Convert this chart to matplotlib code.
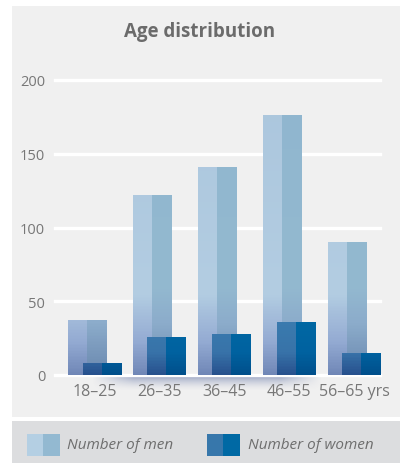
import numpy as np
import matplotlib
matplotlib.use("Agg")
import matplotlib.pyplot as plt
from matplotlib.patches import Rectangle
from matplotlib.colors import to_rgb

plt.rcParams['font.family'] = ['Open Sans', 'DejaVu Sans']

# ---- data ----
categories = ["18–25", "26–35", "36–45", "46–55", "56–65 yrs"]
men = [37, 122, 141, 176, 90]
women = [8, 26, 28, 36, 15]
series_names = ["Number of men", "Number of women"]
yticks = [0, 50, 100, 150, 200]

W, H = 400, 464
fig = plt.figure(figsize=(W / 100, H / 100), dpi=100)
fig.patch.set_facecolor("white")

def fx(px):
    return px / W

def fy(py):
    return 1 - py / H

# panel background and legend band
fig.patches.append(Rectangle((fx(12), fy(418)), fx(388), (418 - 7) / H,
                             transform=fig.transFigure, facecolor="#f0f0f0",
                             edgecolor="none", zorder=-10))
fig.patches.append(Rectangle((fx(12), 0), fx(388), (464 - 422) / H,
                             transform=fig.transFigure, facecolor="#dcdddf",
                             edgecolor="none", zorder=-10))

ax = fig.add_axes([fx(55), fy(376), fx(380 - 55), (376 - 81) / H])
ax.set_facecolor("none")
for s in ax.spines.values():
    s.set_visible(False)

x = np.arange(len(categories))
off = 0.11
bw = 0.6


def ramp(stops, n=200):
    ys = np.arange(n) + 0.5
    vals = np.array([s[0] for s in stops])
    cols = np.array([to_rgb(s[1]) for s in stops])
    out = np.zeros((n, 3))
    for c in range(3):
        out[:, c] = np.interp(ys, vals, cols[:, c])
    return out


men_left = ramp([(0, "#6f86b6"), (22, "#93aad2"), (55, "#b3cde2"), (200, "#abc6dd")])
men_right = ramp([(0, "#6987ae"), (35, "#8caccb"), (60, "#93b9d0"), (200, "#90b6cf")])
wom_left = ramp([(0, "#27508d"), (15, "#3873a9"), (40, "#3b7db0"), (200, "#3b7db0")])
wom_right = ramp([(0, "#004f8b"), (15, "#0062a0"), (40, "#0069a4"), (200, "#0069a4")])


def grad_image(left, right):
    img = np.stack([left, right], axis=1)  # (rows, 2, 3)
    return img[::-1]  # top row first for imshow


men_img = grad_image(men_left, men_right)
wom_img = grad_image(wom_left, wom_right)

bars_m = ax.bar(x - off, men, width=bw, color="#aac5dc", zorder=2, linewidth=0)
bars_w = ax.bar(x + off, women, width=bw, color="#0069a4", zorder=4, linewidth=0)

for bars, img, z in [(bars_m, men_img, 2.5), (bars_w, wom_img, 4.5)]:
    for b in bars:
        x0, w = b.get_x(), b.get_width()
        im = ax.imshow(img, extent=(x0, x0 + w, 0, 200), aspect="auto",
                       interpolation="nearest", zorder=z, origin="upper")
        im.set_clip_path(b)

# soft shadow below the baseline
nx, ny = 200, 30
gx = np.linspace(0, 1, nx)
gy = np.linspace(0, 1, ny)
hx = np.clip(np.minimum(gx / 0.18, (1 - gx) / 0.18), 0, 1)
vy = (1 - gy) ** 1.6
alpha = np.outer(vy, hx) * 0.55
shadow = np.zeros((ny, nx, 4))
shadow[..., :3] = to_rgb("#5d6fa3")
shadow[..., 3] = alpha
ax.imshow(shadow, extent=(-0.05, 3.5, -11, -1.5), aspect="auto",
          interpolation="bilinear", zorder=0.5, clip_on=False, origin="upper")

ax.set_xlim(-0.618, 4.40)
ax.set_ylim(0, 200)
ax.set_yticks(yticks)
ax.set_xticks(x)
ax.set_xticklabels(categories)
ax.grid(axis="y", color="white", linewidth=2.4, zorder=1)
ax.set_axisbelow(True)
for gl in ax.get_ygridlines():
    gl.set_clip_on(False)
ax.tick_params(axis="both", length=0, colors="#777777")
ax.tick_params(axis="y", pad=7, labelsize=10.5)
ax.tick_params(axis="x", pad=6, labelsize=11.5)

# title
fig.text(0.5, fy(32), "Age distribution", ha="center", va="center",
         fontsize=13.5, fontweight="bold", color="#6b6b6b")

# legend (manual)
leg_cols = [("#b4cfe3", "#93b9d1"), ("#3777ab", "#0069a4")]
leg_x = [27, 207]
text_x = [67, 248]
for name, (cl, cr), sx, tx in zip(series_names, leg_cols, leg_x, text_x):
    fig.patches.append(Rectangle((fx(sx), fy(457)), fx(16), 22 / H,
                                 transform=fig.transFigure, facecolor=cl,
                                 edgecolor="none"))
    fig.patches.append(Rectangle((fx(sx + 16), fy(457)), fx(17), 22 / H,
                                 transform=fig.transFigure, facecolor=cr,
                                 edgecolor="none"))
    fig.text(fx(tx), fy(446), name, ha="left", va="center", fontsize=11,
             style="italic", color="#6e6e6e")

fig.savefig("out.png", dpi=100, facecolor="white")
